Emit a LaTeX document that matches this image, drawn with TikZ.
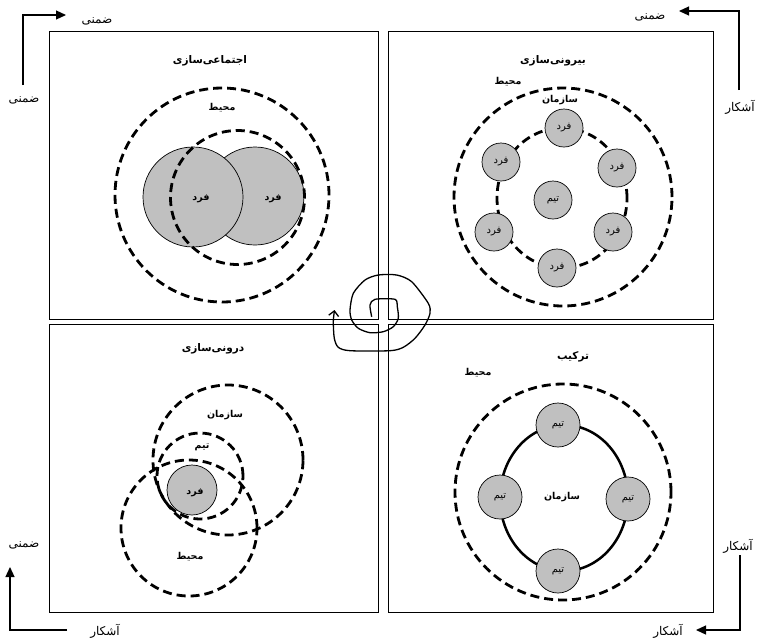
\documentclass[tikz,border=0pt]{standalone}
\usepackage{fontspec}
\newfontfamily\fa[Script=Arabic]{DejaVu Sans}
\TeXXeTstate=1
\usetikzlibrary{arrows.meta}
\definecolor{pgray}{RGB}{192,192,192}
\begin{document}
\begin{tikzpicture}[x=1pt,y=-1pt,
  panel/.style={draw, line width=0.8pt},
  dashring/.style={draw, line width=2.8pt, dash pattern=on 9pt off 5pt},
  person/.style={circle, draw, line width=0.7pt, fill=pgray, inner sep=0pt},
  axisarrow/.style={draw, line width=1.2pt, -{Triangle[length=10pt,width=9pt]}},
  ttl/.style={font=\fa\bfseries\fontsize{10.5}{12}\selectfont, inner sep=1pt},
  lblb/.style={font=\fa\bfseries\fontsize{9.5}{11}\selectfont, inner sep=1pt},
  lbl/.style={font=\fa\fontsize{12}{14}\selectfont, inner sep=1pt},
  intxt/.style={font=\fa\fontsize{10}{12}\selectfont}]
\useasboundingbox (0,0) rectangle (758,641);

% panels
\draw[panel] (49,31) rectangle (378,319);
\draw[panel] (388,31) rectangle (713,319);
\draw[panel] (49,324) rectangle (378,612);
\draw[panel] (388,324) rectangle (713,612);

% corner arrows
\coordinate (tlS) at (23,85); \coordinate (tlE) at (66,15);
\draw[axisarrow] (tlS) |- (tlE);
\node[lbl] (tlA) at (97,21) {\beginR ضمنی\endR};
\node[lbl] (tlB) at (24,100) {\beginR ضمنی\endR};

\coordinate (trS) at (739,90); \coordinate (trE) at (679,11);
\draw[axisarrow] (trS) |- (trE);
\node[lbl] (trA) at (650,17) {\beginR ضمنی\endR};
\node[lbl] (trB) at (740,107) {\beginR آشکار\endR};

\coordinate (blS) at (67,630); \coordinate (blE) at (10,567);
\draw[axisarrow] (blS) -| (blE);
\node[lbl] (blA) at (24,545) {\beginR ضمنی\endR};
\node[lbl] (blB) at (105,631) {\beginR آشکار\endR};

\coordinate (brS) at (740,555); \coordinate (brE) at (696,630);
\draw[axisarrow] (brS) |- (brE);
\node[lbl] (brA) at (738,546) {\beginR آشکار\endR};
\node[lbl] (brB) at (668,631) {\beginR آشکار\endR};

% ---------- top-left: socialization ----------
\node[ttl] (t1) at (210,61) {\beginR اجتماعی‌سازی\endR};
\node[person, minimum size=98pt] (p2) at (255,196) {};
\node[person, minimum size=100pt] (p1) at (193,197) {};
\draw[dashring] (222,195) circle[radius=107pt];
\draw[dashring] (237.5,197.5) circle[radius=67pt];
\node[lblb] (m1) at (222,108) {\beginR محیط\endR};
\node[lblb] (f1) at (201,199) {\beginR فرد\endR};
\node[lblb] (f2) at (273,199) {\beginR فرد\endR};

% ---------- top-right: externalization ----------
\node[ttl] (t2) at (553,61) {\beginR بیرونی‌سازی\endR};
\draw[dashring] (563,197) circle[radius=109pt];
\draw[dashring] (562,198) ellipse[x radius=65pt, y radius=70pt];
\node[lblb] (m2) at (508,82) {\beginR محیط\endR};
\node[lblb] (s2) at (560,100) {\beginR سازمان\endR};
\node[person, minimum size=38pt, intxt] (q1) at (564,128) {\beginR فرد\endR};
\node[person, minimum size=38pt, intxt] (q2) at (617,168) {\beginR فرد\endR};
\node[person, minimum size=38pt, intxt] (q3) at (613,232) {\beginR فرد\endR};
\node[person, minimum size=38pt, intxt] (q4) at (557,268) {\beginR فرد\endR};
\node[person, minimum size=38pt, intxt] (q5) at (494,232) {\beginR فرد\endR};
\node[person, minimum size=38pt, intxt] (q6) at (501,162) {\beginR فرد\endR};
\node[person, minimum size=38pt, intxt] (tm2) at (553,200) {\beginR تیم\endR};

% ---------- bottom-left: internalization ----------
\node[ttl] (t3) at (213,349) {\beginR درونی‌سازی\endR};
\node[person, minimum size=50pt] (p3) at (192,490) {};
\draw[dashring] (228,460) circle[radius=75pt];
\draw[dashring] (200,476) circle[radius=43pt];
\draw[dashring] (189,528) circle[radius=68pt];
\node[lblb] (s3) at (225,415) {\beginR سازمان\endR};
\node[lblb] (tm3) at (202,447) {\beginR تیم\endR};
\node[lblb] (f3) at (195,493) {\beginR فرد\endR};
\node[lblb] (m3) at (190,557) {\beginR محیط\endR};

% ---------- bottom-right: combination ----------
\node[ttl] (t4) at (573,357) {\beginR ترکیب\endR};
\node[lblb] (m4) at (478,373) {\beginR محیط\endR};
\draw[dashring] (563,492) circle[radius=108pt];
\draw[line width=2.5pt] (564,498) ellipse[x radius=64pt, y radius=73pt];
\node[person, minimum size=44pt, intxt] (r1) at (558,425) {\beginR تیم\endR};
\node[person, minimum size=44pt, intxt] (r2) at (628,499) {\beginR تیم\endR};
\node[person, minimum size=44pt, intxt] (r3) at (558,571) {\beginR تیم\endR};
\node[person, minimum size=44pt, intxt] (r4) at (500,497) {\beginR تیم\endR};
\node[lblb] (s4) at (562,497) {\beginR سازمان\endR};

% ---------- central spiral ----------
\draw[line width=1.3pt, line join=round, -{Straight Barb[length=5pt,width=10pt]}]
  plot[smooth, tension=0.45] coordinates {
  (371.7,316.7) (370,305) (375,299.3) (395,299.3) (397.3,306.7) (398.3,318.3)
  (393.3,326.7) (383.3,331.7) (370,332.7) (358.3,328.3) (351.7,320) (350,310)
  (353.3,293.3) (365,280) (378.3,275) (396.7,275) (411.7,281.7) (428.3,303.3)
  (430,313.3) (425,325) (415,338.3) (403.3,347.3) (390,350.7) (350,350.7)
  (338.3,347.3) (334.3,338.3) (333.3,321.7) (334.5,310)};
\end{tikzpicture}
\end{document}
